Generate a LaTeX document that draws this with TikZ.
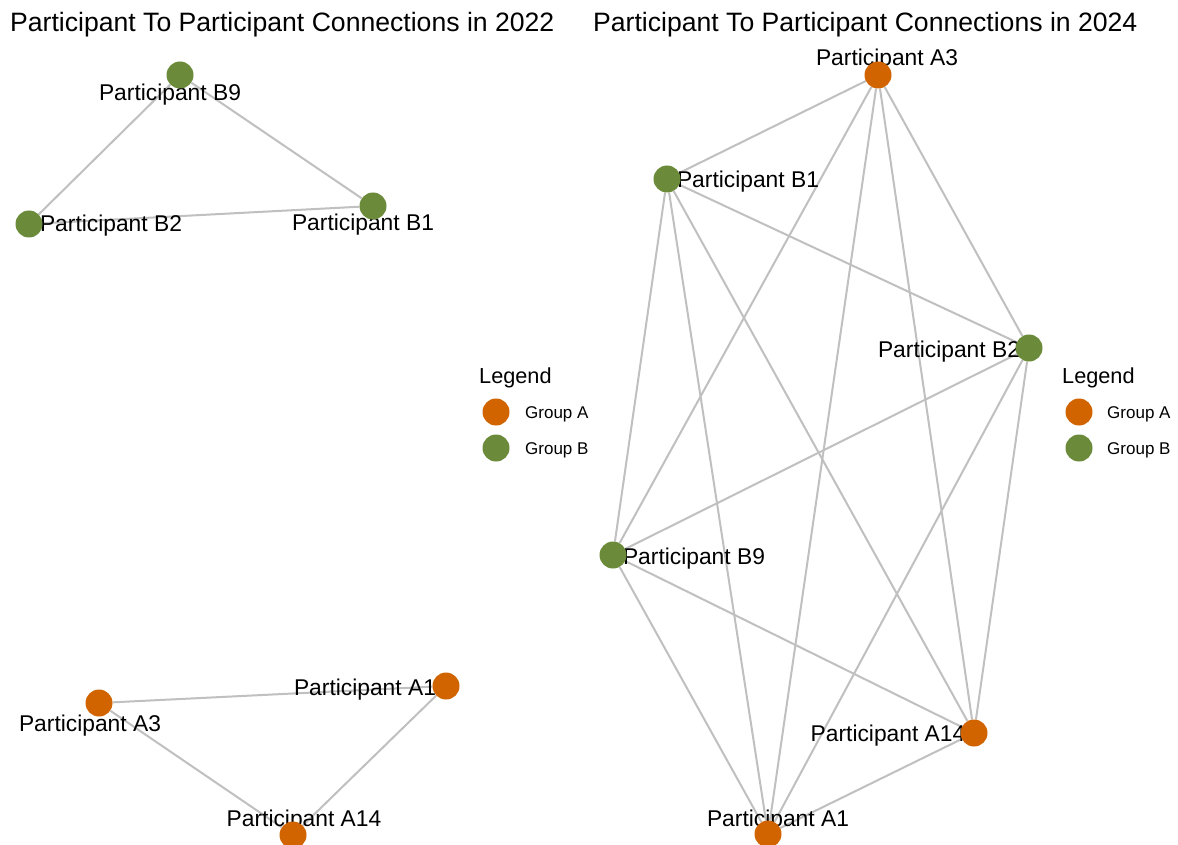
\documentclass[tikz,border=0pt]{standalone}
\usepackage{fontspec}
\setmainfont{Liberation Sans}
\definecolor{grpA}{RGB}{210,100,0}
\definecolor{grpB}{RGB}{107,139,58}
\definecolor{edgegray}{RGB}{192,192,192}
\pgfdeclarelayer{edgelayer}
\pgfdeclarelayer{labellayer}
\pgfsetlayers{edgelayer,labellayer,main}
\tikzset{
  dot/.style={circle,inner sep=0pt,minimum size=27pt,draw=none},
  dotA/.style={dot,fill=grpA},
  dotB/.style={dot,fill=grpB},
  keydot/.style={circle,inner sep=0pt,minimum size=27pt,draw=none},
  edge/.style={draw=edgegray,line width=2pt},
  lbl/.style={anchor=base,inner sep=0pt,font=\fontsize{22.8}{26}\selectfont},
  ttl/.style={anchor=base west,inner sep=0pt,font=\fontsize{26.6}{30}\selectfont},
  legttl/.style={anchor=base west,inner sep=0pt,font=\fontsize{21.7}{26}\selectfont},
  legtxt/.style={anchor=base west,inner sep=0pt,font=\fontsize{17}{20}\selectfont}
}
\begin{document}
\begin{tikzpicture}[x=1pt,y=-1pt]
\useasboundingbox (0,0) rectangle (1178,845);
\begin{pgfonlayer}{edgelayer}
\clip (0,0) rectangle (1178,845);
\fill[white] (0,0) rectangle (1178,845);
\end{pgfonlayer}
\clip (0,0) rectangle (1178,845);
% titles
\node[ttl] (t1) at (10,32) {Participant To Participant Connections in 2022};
\node[ttl] (t2) at (593,32) {Participant To Participant Connections in 2024};
% ---------- 2022 ----------
\node[dotB] (oB9) at (180,75) {};
\node[dotB] (oB2) at (29,224) {};
\node[dotB] (oB1) at (373,206) {};
\node[dotA] (oA3) at (99,703) {};
\node[dotA] (oA1) at (446,686) {};
\node[dotA] (oA14) at (293,835) {};
\begin{pgfonlayer}{edgelayer}
\draw[edge] (oB9) -- (oB2);
\draw[edge] (oB9) -- (oB1);
\draw[edge] (oB2) -- (oB1);
\draw[edge] (oA3) -- (oA1);
\draw[edge] (oA3) -- (oA14);
\draw[edge] (oA1) -- (oA14);
\end{pgfonlayer}
\begin{pgfonlayer}{labellayer}
\node[lbl] (loB9) at (170,101) {Participant B9};
\node[lbl] (loB2) at (111,232) {Participant B2};
\node[lbl] (loB1) at (363,231) {Participant B1};
\node[lbl] (loA3) at (90,731) {Participant A3};
\node[lbl] (loA1) at (365,695) {Participant A1};
\node[lbl] (loA14) at (304,826) {Participant A14};
\end{pgfonlayer}
% ---------- 2024 ----------
\node[dotA] (nA3) at (878,75) {};
\node[dotB] (nB1) at (667,179) {};
\node[dotB] (nB2) at (1029,348) {};
\node[dotB] (nB9) at (613,555) {};
\node[dotA] (nA14) at (974,733) {};
\node[dotA] (nA1) at (768,834) {};
\begin{pgfonlayer}{edgelayer}
\foreach \a/\b in {nA3/nB1,nA3/nB2,nA3/nB9,nA3/nA14,nA3/nA1,
                   nB1/nB2,nB1/nB9,nB1/nA14,nB1/nA1,
                   nB2/nB9,nB2/nA14,nB2/nA1,
                   nB9/nA14,nB9/nA1,
                   nA14/nA1}
  \draw[edge] (\a) -- (\b);
\end{pgfonlayer}
\begin{pgfonlayer}{labellayer}
\node[lbl] (lnA3) at (887,66) {Participant A3};
\node[lbl] (lnB1) at (748,188) {Participant B1};
\node[lbl] (lnB2) at (949,357) {Participant B2};
\node[lbl] (lnB9) at (694,564) {Participant B9};
\node[lbl] (lnA14) at (888,741) {Participant A14};
\node[lbl] (lnA1) at (778,826) {Participant A1};
\end{pgfonlayer}
% ---------- legends ----------
\node[legttl] (lg1) at (479,383) {Legend};
\node[keydot,fill=grpA] (k1a) at (496,412) {};
\node[keydot,fill=grpB] (k1b) at (496,448) {};
\node[legtxt] (k1at) at (525,418) {Group A};
\node[legtxt] (k1bt) at (525,454) {Group B};
\node[legttl] (lg2) at (1062,383) {Legend};
\node[keydot,fill=grpA] (k2a) at (1079,412) {};
\node[keydot,fill=grpB] (k2b) at (1079,448) {};
\node[legtxt] (k2at) at (1107,418) {Group A};
\node[legtxt] (k2bt) at (1107,454) {Group B};
\end{tikzpicture}
\end{document}
